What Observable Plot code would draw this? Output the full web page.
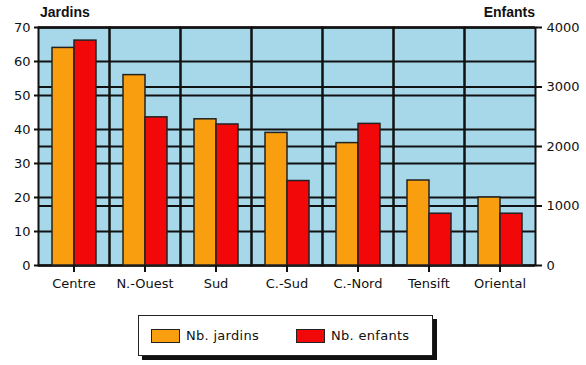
<!DOCTYPE html>
<html>
<head>
<meta charset="utf-8">
<script src="https://cdn.jsdelivr.net/npm/d3@7"></script>
<script src="https://cdn.jsdelivr.net/npm/@observablehq/plot@0.6"></script>
<style>
  html, body { margin: 0; padding: 0; background: #fff; }
  body { position: relative; width: 586px; height: 365px; overflow: hidden; font-family: "DejaVu Sans", sans-serif; color: #111; }
  #chart { position: absolute; left: 0; top: 0; }
  .ttl { position: absolute; top: 4px; font-family: "Liberation Sans", Arial, sans-serif; font-size: 14px; font-weight: bold; }
  #legend { position: absolute; left: 138px; top: 315px; width: 293px; height: 39px; border: 1.5px solid #222; background: #fff; box-shadow: 4px 4px 0 #111; }
  .item { position: absolute; top: 12px; display: flex; align-items: center; font-size: 13px; letter-spacing: 0.3px; }
  .sw { width: 27px; height: 12px; border: 1.5px solid #222; margin-right: 6px; }
</style>
</head>
<body>
<div id="chart"></div>
<div class="ttl" style="left:40px">Jardins</div>
<div class="ttl" style="right:51px">Enfants</div>
<div id="legend"></div>
<script>
const regions = ["Centre", "N.-Ouest", "Sud", "C.-Sud", "C.-Nord", "Tensift", "Oriental"];
const jardins = [64, 56, 43, 39, 36, 25, 20];
const enfants = [3780, 2490, 2370, 1420, 2380, 870, 870];
const seriesNames = ["Nb. jardins", "Nb. enfants"];
const seriesColors = ["#f99e0f", "#f20808"];
const jardinTicks = [0, 10, 20, 30, 40, 50, 60, 70];
const enfantTicks = [0, 1000, 2000, 3000, 4000];

const jMax = 70, eMax = 4000;
const toY = v => v * jMax / eMax;

const rows = [];
regions.forEach((r, i) => {
  rows.push({region: r, series: seriesNames[0], y: jardins[i]});
  rows.push({region: r, series: seriesNames[1], y: toY(enfants[i])});
});
const gridValues = jardinTicks.concat(enfantTicks.map(toY));

const chart = Plot.plot({
  width: 586, height: 300,
  marginLeft: 38, marginRight: 51, marginTop: 27, marginBottom: 35,
  style: {fontFamily: "'DejaVu Sans', sans-serif", fontSize: "13px", color: "#111", background: "transparent"},
  fx: {domain: regions, padding: 0, label: null},
  x: {domain: seriesNames, paddingInner: 0, paddingOuter: 0.55, axis: null},
  y: {domain: [0, jMax], axis: null},
  color: {domain: seriesNames, range: seriesColors},
  marks: [
    Plot.frame({fill: "#a6d8ea", stroke: null}),
    Plot.ruleY(gridValues, {stroke: "#111", strokeWidth: 2}),
    Plot.frame({stroke: "#111", strokeWidth: 2}),
    Plot.barY(rows, {fx: "region", x: "series", y: "y", fill: "series", stroke: "#222", strokeWidth: 1.5}),
    Plot.axisY({anchor: "left", ticks: jardinTicks, tickSize: 4, tickPadding: 4, label: null, strokeWidth: 2}),
    Plot.axisY({anchor: "right", ticks: enfantTicks.map(toY), tickFormat: d => String(Math.round(d * eMax / jMax)), tickSize: 6, tickPadding: 5, label: null, strokeWidth: 2}),
    Plot.axisFx({anchor: "bottom", tickSize: 7, tickPadding: 6, label: null, strokeWidth: 2})
  ]
});
document.getElementById("chart").appendChild(chart);

const legend = document.getElementById("legend");
const lx = [12, 157];
seriesNames.forEach((s, i) => {
  const it = document.createElement("div");
  it.className = "item";
  it.style.left = lx[i] + "px";
  const sw = document.createElement("div");
  sw.className = "sw";
  sw.style.background = seriesColors[i];
  it.appendChild(sw);
  const t = document.createElement("span");
  t.textContent = s;
  it.appendChild(t);
  legend.appendChild(it);
});
</script>
</body>
</html>
